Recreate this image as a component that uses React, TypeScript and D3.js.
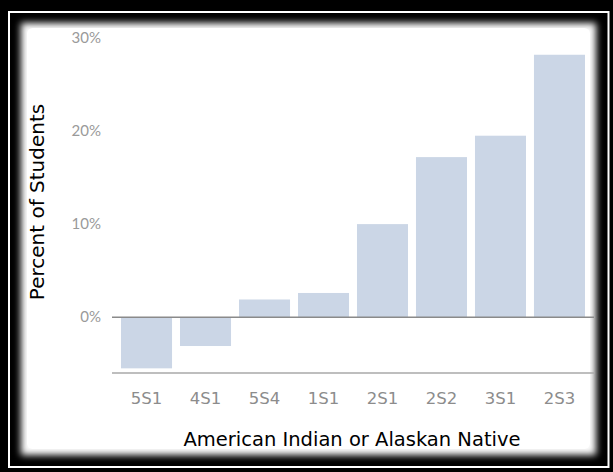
import React from 'react';
import * as d3 from 'd3';

const categories = ['5S1', '4S1', '5S4', '1S1', '2S1', '2S2', '3S1', '2S3'];
const values = [-5.5, -3.1, 1.9, 2.6, 10.0, 17.2, 19.5, 28.2];
const yTicks = [0, 10, 20, 30];

const W = 613;
const H = 472;

const App = () => {
  const x = d3.scaleBand<string>()
    .domain(categories)
    .range([117, 589])
    .paddingInner(0.135)
    .paddingOuter(0.068);

  const y = d3.scaleLinear()
    .domain([-6, 30])
    .range([373, 38]);

  const lineX1 = 112;
  const lineX2 = 594;

  return (
    <div style={{ position: 'fixed', top: 0, left: 0 }}>
      <svg width={W} height={H} style={{ display: 'block' }}>
        <defs>
          <filter id="soft" x="-10%" y="-10%" width="120%" height="120%">
            <feGaussianBlur stdDeviation="3.5" />
          </filter>
        </defs>
        {/* frame */}
        <rect x={0} y={0} width={W} height={H} fill="#000" />
        <rect x={9} y={12} width={W - 4.5 - 9} height={H - 5 - 12} fill="none" stroke="#fff" strokeWidth={2} />
        <rect x={21} y={23} width={575} height={432} fill="#fff" filter="url(#soft)" />
        <rect x={27} y={28} width={563} height={421} rx={6} fill="#fff" />

        {/* bars */}
        {categories.map((c, i) => (
          <rect
            key={c}
            x={x(c)}
            width={x.bandwidth()}
            y={y(Math.max(0, values[i]))}
            height={Math.abs(y(values[i]) - y(0))}
            fill="#cbd6e6"
          />
        ))}

        {/* zero line and bottom axis */}
        <line x1={lineX1} x2={lineX2} y1={y(0)} y2={y(0)} stroke="#8a8a8a" strokeWidth={1.5} />
        <line x1={lineX1} x2={lineX2} y1={y(-6)} y2={y(-6)} stroke="#a8a8a8" strokeWidth={1.5} />

        {/* y tick labels */}
        {yTicks.map(t => (
          <text
            key={t}
            x={101}
            y={y(t)}
            dy="0.35em"
            textAnchor="end"
            fontFamily="Lato, sans-serif"
            fontSize={15}
            fill="#9a9a9a"
          >
            {t}%
          </text>
        ))}

        {/* x tick labels */}
        {categories.map(c => (
          <text
            key={c}
            x={(x(c) ?? 0) + x.bandwidth() / 2}
            y={404}
            textAnchor="middle"
            fontFamily="DejaVu Sans, sans-serif"
            fontSize={16.5}
            fill="#8c8c8c"
          >
            {c}
          </text>
        ))}

        {/* axis titles */}
        <text
          x={352}
          y={446}
          textAnchor="middle"
          fontFamily="DejaVu Sans, sans-serif"
          fontSize={19.5}
          fill="#000"
        >
          American Indian or Alaskan Native
        </text>
        <text
          transform={`translate(44,202) rotate(-90)`}
          textAnchor="middle"
          fontFamily="DejaVu Sans, sans-serif"
          fontSize={20}
          fill="#000"
        >
          Percent of Students
        </text>
      </svg>
    </div>
  );
};

export default App;
